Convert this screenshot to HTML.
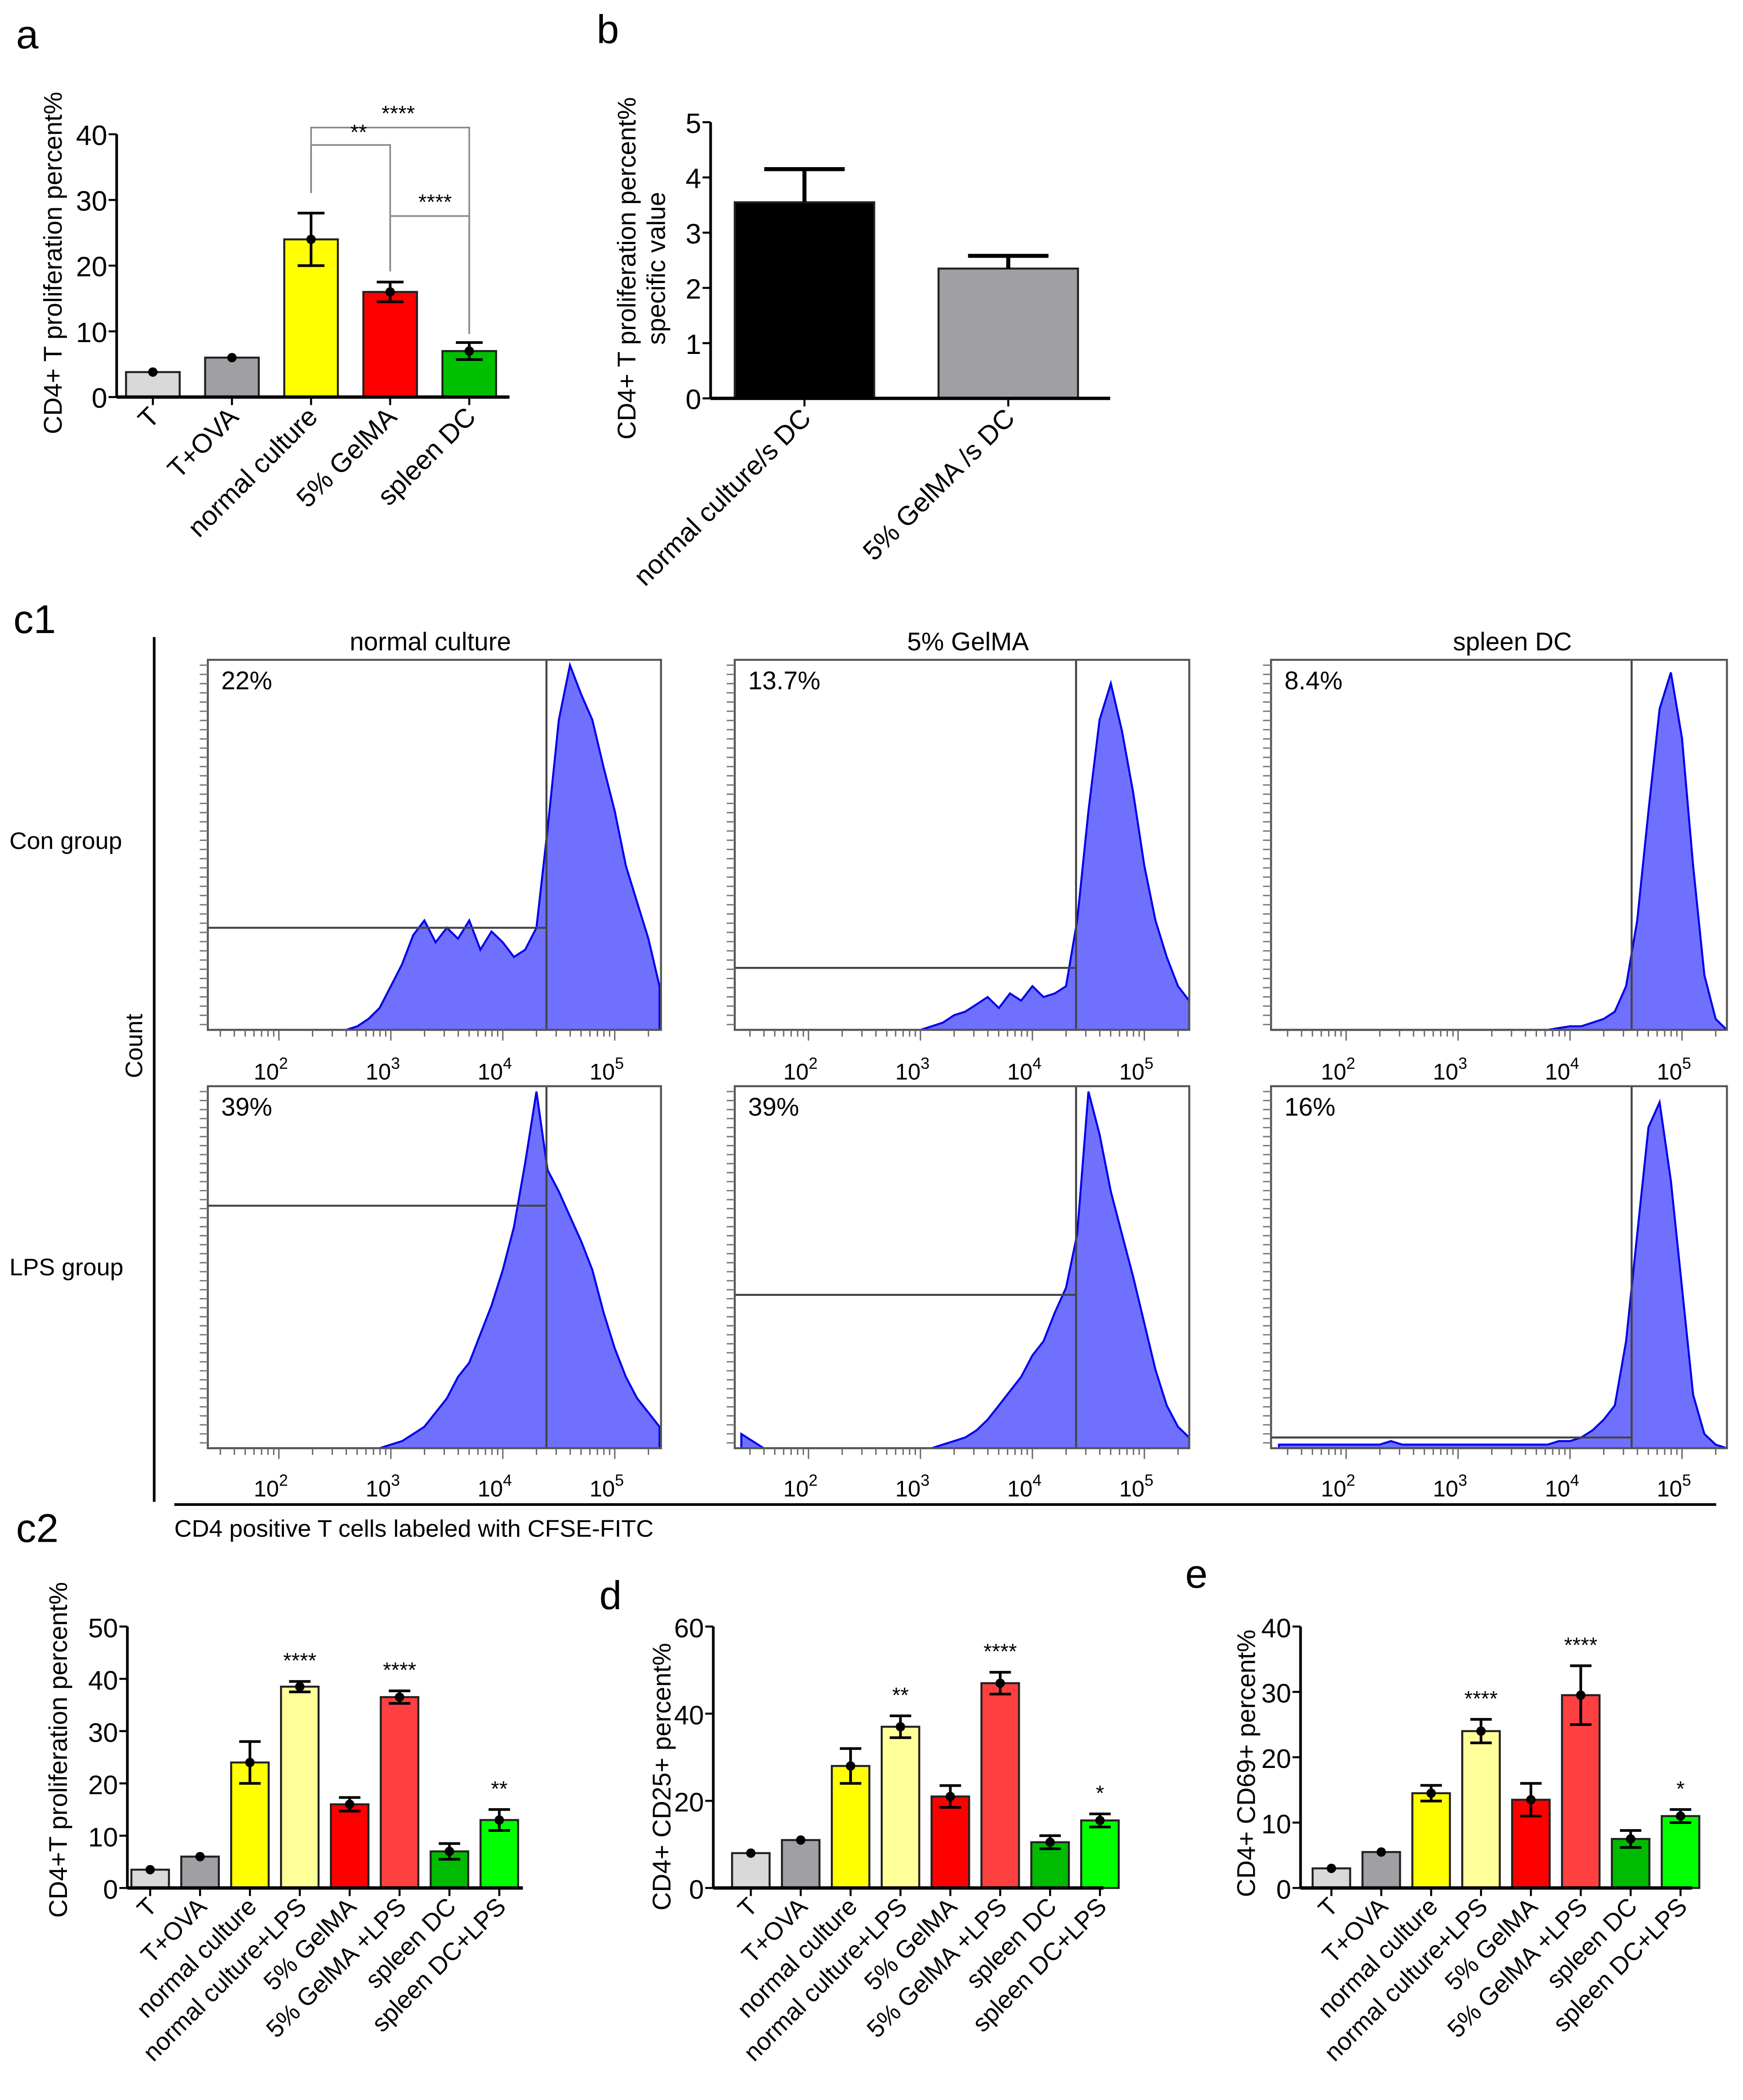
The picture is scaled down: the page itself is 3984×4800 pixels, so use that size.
<!DOCTYPE html>
<html><head><meta charset="utf-8"><style>
html,body{margin:0;padding:0;background:#fff;}
svg{display:block;font-family:"Liberation Sans",Arial,sans-serif;}
</style></head><body>
<svg id="fig" width="3984" height="4800" viewBox="0 0 1300 1566" xmlns="http://www.w3.org/2000/svg">
<rect x="0" y="0" width="1300" height="1566" fill="#fff"/>
<g id="root"></g>
</svg>
<script>
// ---------- DATA ----------
const aCategories = ["T","T+OVA","normal culture","5% GelMA","spleen DC"];
const aValues = [3.8, 6.0, 24.0, 16.0, 7.0];
const aErrors = [0, 0, 4.0, 1.5, 1.3];
const aColors = ["#d9d9d9","#a0a0a4","#ffff00","#ff0000","#00c000"];
const aTicks = [0,10,20,30,40];

const bCategories = ["normal culture/s DC","5% GelMA /s DC"];
const bValues = [3.55, 2.35];
const bErrors = [0.6, 0.23];
const bTicks = [0,1,2,3,4,5];

const lpsCategories = ["T","T+OVA","normal culture","normal culture+LPS","5% GelMA","5% GelMA +LPS","spleen DC","spleen DC+LPS"];
const lpsColors = ["#d9d9d9","#a0a0a4","#ffff00","#ffff99","#ff0000","#ff4040","#00bb00","#00ff00"];
const c2Values = [3.5, 6.0, 24.0, 38.5, 16.0, 36.5, 7.0, 13.0];
const c2Errors = [0, 0, 4.0, 1.0, 1.3, 1.2, 1.5, 2.0];
const c2Stars = ["","","","****","","****","","**"];
const c2Ticks = [0,10,20,30,40,50];
const dValues = [8.0, 11.0, 28.0, 37.0, 21.0, 47.0, 10.5, 15.5];
const dErrors = [0, 0, 4.0, 2.5, 2.5, 2.5, 1.5, 1.5];
const dStars = ["","","","**","","****","","*"];
const dTicks = [0,20,40,60];
const eValues = [3.0, 5.5, 14.5, 24.0, 13.5, 29.5, 7.5, 11.0];
const eErrors = [0, 0, 1.2, 1.8, 2.5, 4.5, 1.3, 1.0];
const eStars = ["","","","****","","****","","*"];
const eTicks = [0,10,20,30,40];

// flow histograms: log10 positions from 1.4 to 5.4 step 0.1, heights as fraction of box
const histLogStart = 1.4;
const histLogStep = 0.1;
const histConNormal = [0,0,0,0,0,0,0,0,0,0,0,0,0,0.01,0.03,0.06,0.12,0.18,0.26,0.3,0.24,0.28,0.25,0.3,0.22,0.27,0.24,0.2,0.22,0.28,0.55,0.85,1.0,0.92,0.85,0.72,0.6,0.45,0.35,0.25,0.12];
const histConGelma = [0,0,0,0,0,0,0,0,0,0,0,0,0,0,0,0,0,0.01,0.02,0.04,0.05,0.07,0.09,0.06,0.1,0.08,0.12,0.09,0.1,0.12,0.3,0.6,0.85,0.95,0.82,0.65,0.45,0.3,0.2,0.12,0.08];
const histConSpleen = [0,0,0,0,0,0,0,0,0,0,0,0,0,0,0,0,0,0,0,0,0,0,0,0,0,0.005,0.01,0.01,0.02,0.03,0.05,0.12,0.3,0.6,0.88,0.98,0.8,0.45,0.15,0.03,0];
const histLpsNormal = [0,0,0,0,0,0,0,0,0,0,0,0,0,0,0,0,0.01,0.02,0.04,0.06,0.1,0.14,0.2,0.24,0.32,0.4,0.5,0.62,0.8,1.0,0.78,0.72,0.65,0.58,0.5,0.38,0.28,0.2,0.14,0.1,0.06];
const histLpsGelma = [0.04,0.02,0,0,0,0,0,0,0,0,0,0,0,0,0,0,0,0,0.01,0.02,0.03,0.05,0.08,0.12,0.16,0.2,0.26,0.3,0.38,0.45,0.6,1.0,0.88,0.72,0.6,0.48,0.35,0.22,0.12,0.06,0.03];
const histLpsSpleen = [0.01,0.01,0.01,0.01,0.01,0.01,0.01,0.01,0.01,0.01,0.02,0.01,0.01,0.01,0.01,0.01,0.01,0.01,0.01,0.01,0.01,0.01,0.01,0.01,0.01,0.02,0.02,0.03,0.05,0.08,0.12,0.3,0.6,0.9,0.97,0.75,0.45,0.15,0.04,0.01,0];
const flowPercents = ["22%","13.7%","8.4%","39%","39%","16%"];
const flowHGate = [0.28,0.17,0.0,0.68,0.43,0.03];
const flowVGateLog = [4.39,4.39,4.55,4.39,4.39,4.55];
const flowTickLogs = [2,3,4,5];

// ---------- DRAW ----------
const NS = "http://www.w3.org/2000/svg";
const root = document.getElementById("root");
function mk(tag, attrs, parent){
  const e = document.createElementNS(NS, tag);
  for (const k in attrs) e.setAttribute(k, attrs[k]);
  (parent||root).appendChild(e);
  return e;
}
function txt(s, attrs, parent){ const t = mk("text", attrs, parent); t.textContent = s; return t; }

function barChart(cfg){
  const g = mk("g", {});
  
  
  const yMax = cfg.ticks[cfg.ticks.length-1];
  const yS = v => cfg.y0 - (v / yMax) * (cfg.y0 - cfg.yTop);
  const xS = i => cfg.xStart + i * cfg.step;
  cfg.values.forEach((v,i)=>{
    const r = mk("rect", {x: xS(i)-cfg.bw/2, y: yS(v), width: cfg.bw, height: cfg.y0 - yS(v), fill: cfg.colors[i], stroke: "#222", "stroke-width": cfg.bstroke||1.5}, g);
    
    
    const e = cfg.errors[i];
    if (e > 0) {
      const eg = mk("g", {stroke:"#000","stroke-width":cfg.ew||2}, g);
      
      
      const lo = cfg.upOnly ? v : v - e;
      mk("line", {x1:xS(i), x2:xS(i), y1:yS(lo), y2:yS(v+e)}, eg);
      mk("line", {x1:xS(i)-cfg.cap, x2:xS(i)+cfg.cap, y1:yS(v+e), y2:yS(v+e)}, eg);
      if (!cfg.upOnly) mk("line", {x1:xS(i)-cfg.cap, x2:xS(i)+cfg.cap, y1:yS(v-e), y2:yS(v-e)}, eg);
    }
    if (cfg.markers) {
      const m = mk("circle", {cx:xS(i), cy:yS(v), r:3.5, fill:"#000"}, g);
      
      
    }
    if (cfg.stars && cfg.stars[i]) {
      const s = txt(cfg.stars[i], {x:xS(i), y: yS(v+e) - 10, "text-anchor":"middle", "font-size":16}, g);
      
      
    }
    const lab = txt(cfg.cats[i], {x:0, y:0, "text-anchor":"end", "font-size":cfg.lfs, transform:`translate(${xS(i)+6},${cfg.y0+cfg.lOff}) rotate(-45)`}, g);
    
    
    mk("line", {x1:xS(i), x2:xS(i), y1:cfg.y0, y2:cfg.y0+6, stroke:"#000","stroke-width":1.5}, g);
  });
  const ya = mk("line", {x1:cfg.x0, x2:cfg.x0, y1:cfg.yTop, y2:cfg.y0, stroke:"#000","stroke-width":2}, g);
   
  const xa = mk("line", {x1:cfg.x0, x2:cfg.x1, y1:cfg.y0, y2:cfg.y0, stroke:"#000","stroke-width":2.5}, g);
   
  cfg.ticks.forEach(t=>{
    mk("line", {x1:cfg.x0-6, x2:cfg.x0, y1:yS(t), y2:yS(t), stroke:"#000","stroke-width":1.5}, g);
    const tl = txt(String(t), {x:cfg.x0-7, y:yS(t)+8, "text-anchor":"end", "font-size":cfg.tfs}, g);
    
    
  });
  cfg.titles.forEach((tt,k)=>{
    const t = txt(tt, {x:0, y:0, "text-anchor":"middle", "font-size":cfg.titleFs, transform:`translate(${cfg.titleX + k*22},${cfg.titleY}) rotate(-90)`}, g);
    
    
  });
  return {g, xS, yS};
}

[["a",12,36],["b",445,32],["c1",10,472],["c2",12,1150],["d",447,1200],["e",884,1184]].forEach(p=>{
  const t = txt(p[0], {x:p[1], y:p[2], "font-size":30});
  
  
});

const A = barChart({name:"chart-a", cats:aCategories, values:aValues, errors:aErrors, colors:aColors, ticks:aTicks,
  x0:87, x1:380, y0:296, yTop:100, xStart:114, step:59, bw:40, cap:10, lfs:20, lOff:16, tfs:21, markers:true,
  titles:["CD4+ T proliferation percent%"], titleX:46, titleY:196, titleFs:19});
(function(){
  const bg = mk("g", {stroke:"#888","stroke-width":1.2,fill:"none"});
  
  
  const x2=A.xS(2), x3=A.xS(3), x4=A.xS(4);
  mk("polyline", {points:`${x2},${A.yS(28)-15} ${x2},95 ${x4},95 ${x4},${A.yS(9)-3}`}, bg);
  mk("polyline", {points:`${x2},${A.yS(28)-15} ${x2},108 ${x3},108 ${x3},${A.yS(17.5)-8}`}, bg);
  mk("polyline", {points:`${x3},${A.yS(17.5)-8} ${x3},161 ${x4},161 ${x4},${A.yS(9)-3}`}, bg);
  [["****",(x2+x4)/2+6,90],["**",(x2+x3)/2+6,104],["****",(x3+x4)/2+4,156]].forEach(s=>{
    txt(s[0], {x:s[1], y:s[2], "text-anchor":"middle", "font-size":16, fill:"#000", stroke:"none"}, bg);
  });
})();

barChart({name:"chart-b", cats:bCategories, values:bValues, errors:bErrors, colors:["#000","#a0a0a4"], ticks:bTicks,
  x0:530, x1:828, y0:297, yTop:91, xStart:600, step:152, bw:104, cap:30, lfs:20, lOff:16, tfs:21, upOnly:true, ew:3, bstroke:0,
  titles:["CD4+ T proliferation percent%","specific value"], titleX:474, titleY:200, titleFs:19});

(function(){
  const g = mk("g", {});
  
  
  mk("line", {x1:115,x2:115,y1:475,y2:1120,stroke:"#000","stroke-width":2}, g);
  mk("line", {x1:130,x2:1280,y1:1122,y2:1122,stroke:"#000","stroke-width":2}, g);
  const xl = txt("CD4 positive T cells labeled with CFSE-FITC", {x:130, y:1146, "font-size":18}, g);
   
  const cl = txt("Count", {x:0,y:0,"text-anchor":"middle","font-size":18, transform:"translate(106,780) rotate(-90)"}, g);
   
  const r1 = txt("Con group", {x:7,y:633,"font-size":18}, g);
   
  const r2 = txt("LPS group", {x:7,y:951,"font-size":18}, g);
   
  [["normal culture",321],["5% GelMA",722],["spleen DC",1128]].forEach(c=>{
    const t = txt(c[0], {x:c[1], y:485, "text-anchor":"middle", "font-size":19}, g);
     
  });

  const hists = [histConNormal, histConGelma, histConSpleen, histLpsNormal, histLpsGelma, histLpsSpleen];
  const colX = [[155,493,208],[548,887,603],[948,1288,1004]];
  const rowY = [[492,768,797],[810,1080,1108]];
  const dec = 83.5;
  hists.forEach((h,idx)=>{
    const c = idx%3, r = Math.floor(idx/3);
    const [bx0,bx1,x2] = colX[c], [by0,by1,ly] = rowY[r];
    const xs = L => x2 + (L-2)*dec;
    const ys = f => by1 - f*(by1-by0-4);
    const hg = mk("g", {}, g);
    
    
    const clipId = "clip"+idx;
    const cp = mk("clipPath", {id:clipId}, hg);
    mk("rect", {x:bx0,y:by0,width:bx1-bx0,height:by1-by0}, cp);
    let d = `M${xs(histLogStart)},${by1}`;
    h.forEach((f,i)=>{ d += ` L${xs(histLogStart+i*histLogStep).toFixed(1)},${ys(f).toFixed(1)}`; });
    d += ` L${xs(histLogStart+(h.length-1)*histLogStep)},${by1} Z`;
    const p = mk("path", {d, fill:"#7070ff", stroke:"#0000ee", "stroke-width":1.5, "clip-path":`url(#${clipId})`}, hg);
     
    const gx = xs(flowVGateLog[idx]);
    mk("line", {x1:gx,x2:gx,y1:by0,y2:by1,stroke:"#444","stroke-width":1.5}, hg);
    const gy = ys(flowHGate[idx]);
    mk("line", {x1:bx0,x2:gx,y1:gy,y2:gy,stroke:"#444","stroke-width":1.5}, hg);
    mk("rect", {x:bx0,y:by0,width:bx1-bx0,height:by1-by0,fill:"none",stroke:"#555","stroke-width":1.5}, hg);
    for (let k=0;k<40;k++){ const yy = by0+4+k*(by1-by0-8)/39; mk("line",{x1:bx0-6,x2:bx0,y1:yy,y2:yy,stroke:"#777","stroke-width":1}, hg); }
    for (let L=1; L<=5; L++){
      for (let m=1;m<10;m++){
        const xx = xs(L+Math.log10(m));
        if (xx<bx0||xx>bx1) continue;
        mk("line",{x1:xx,x2:xx,y1:by1,y2:by1+(m===1?8:5),stroke:"#666","stroke-width":1}, hg);
      }
    }
    flowTickLogs.forEach(L=>{
      const t = txt("10", {x:xs(L)-6, y:ly+8, "text-anchor":"middle", "font-size":17}, hg);
       
      const ts = document.createElementNS(NS,"tspan"); ts.setAttribute("dy","-8"); ts.setAttribute("font-size","12"); ts.textContent = String(L); t.appendChild(ts);
    });
    const pl = txt(flowPercents[idx], {x:bx0+10, y:by0+22, "font-size":19}, hg);
     
  });
})();

barChart({name:"chart-c2", cats:lpsCategories, values:c2Values, errors:c2Errors, colors:lpsColors, ticks:c2Ticks,
  x0:95, x1:390, y0:1408, yTop:1213, xStart:112, step:37.2, bw:28, cap:8, lfs:18.5, lOff:15, tfs:20, stars:c2Stars, markers:true,
  titles:["CD4+T proliferation percent%"], titleX:50, titleY:1305, titleFs:19});
barChart({name:"chart-d", cats:lpsCategories, values:dValues, errors:dErrors, colors:lpsColors, ticks:dTicks,
  x0:532, x1:823, y0:1408, yTop:1213, xStart:560, step:37.2, bw:28, cap:8, lfs:18.5, lOff:15, tfs:20, stars:dStars, markers:true,
  titles:["CD4+ CD25+ percent%"], titleX:500, titleY:1325, titleFs:19});
barChart({name:"chart-e", cats:lpsCategories, values:eValues, errors:eErrors, colors:lpsColors, ticks:eTicks,
  x0:970, x1:1262, y0:1408, yTop:1213, xStart:993, step:37.2, bw:28, cap:8, lfs:18.5, lOff:15, tfs:20, stars:eStars, markers:true,
  titles:["CD4+ CD69+ percent%"], titleX:936, titleY:1315, titleFs:19});
</script>
</body></html>
